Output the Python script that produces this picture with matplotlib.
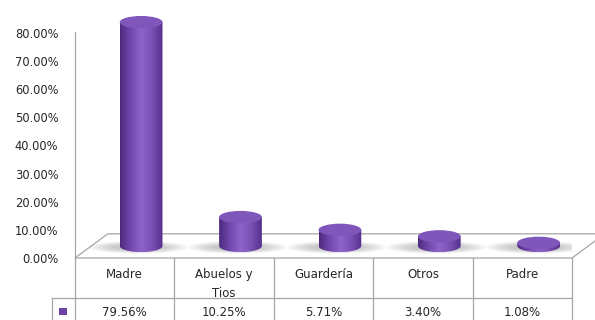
import numpy as np
import matplotlib.pyplot as plt
from matplotlib.patches import Ellipse, Polygon, PathPatch, Rectangle
from matplotlib.path import Path
from matplotlib.colors import LinearSegmentedColormap

plt.rcParams['font.family'] = ['DejaVu Sans']

categorias = ["Madre", "Abuelos y\nTios", "Guardería", "Otros", "Padre"]
porcentajes = [79.56, 10.25, 5.71, 3.40, 1.08]
yticks = [0, 10, 20, 30, 40, 50, 60, 70, 80]

W, H = 595, 320
fig = plt.figure(figsize=(W / 100, H / 100), dpi=100)
# axes reaches above the 80% line so the tallest cylinder is not cut
ax = fig.add_axes([75 / W, (H - 258) / H, (572 - 75) / W, (258 - 3) / H])
ytop = 80 * (258 - 3) / (258 - 33)
for s in ax.spines.values():
    s.set_visible(False)

# depth of the 3d floor (in data units) and cylinder size
dx, dy = 0.33, 8.6
rx, ry = 0.215, 2.2
gris = '#A6A6A6'
txt = '#262626'

# floor
floor = Polygon([(0, 0), (5, 0), (5 + dx, dy), (dx, dy)], closed=True,
                facecolor='white', edgecolor=gris, lw=0.9, clip_on=False, zorder=1)
ax.add_patch(floor)
ax.plot([0, 0], [0, 80.5], color=gris, lw=0.9, clip_on=False, zorder=1)

cmap = LinearSegmentedColormap.from_list('cil', ['#4E2A7E', '#7248AE', '#8D65C9', '#7A50B5', '#57308C'])
grad = np.linspace(0, 1, 100).reshape(1, -1)

for i, v in enumerate(porcentajes):
    cx = i + 0.5 + dx / 2
    yb = dy / 2
    yt = yb + v
    # soft shadow on the floor
    for k in range(6):
        ax.add_patch(Ellipse((cx - 0.03, yb - 0.5), 2 * rx * (1.2 + 0.22 * k), 2 * ry * (0.5 + 0.1 * k),
                             facecolor='#6E6E6E', edgecolor='none', alpha=0.07, zorder=2))
    t = np.linspace(np.pi, 2 * np.pi, 40)
    verts = [(cx - rx, yt)] + list(zip(cx + rx * np.cos(t), yb + ry * np.sin(t))) + [(cx + rx, yt), (cx - rx, yt)]
    body = PathPatch(Path(verts), facecolor='none', edgecolor='none', zorder=3)
    ax.add_patch(body)
    im = ax.imshow(grad, cmap=cmap, extent=[cx - rx, cx + rx, yb - ry, yt],
                   aspect='auto', zorder=3, interpolation='bilinear')
    im.set_clip_path(body)
    ax.add_patch(Ellipse((cx, yt), 2 * rx, 2 * ry, facecolor='#7F57BB',
                         edgecolor='none', zorder=4))

ax.set_xlim(0, len(categorias))
ax.set_ylim(0, ytop)
ax.set_yticks(yticks)
ax.set_yticklabels([f"{t:.2f}%" for t in yticks])
ax.set_xticks([])
ax.tick_params(axis='y', length=0, pad=12, labelsize=8.3, labelcolor=txt)

# data table below the floor
y_row = -14.3
y_bot = -23
for j in range(len(categorias) + 1):
    ax.plot([j, j], [0, y_bot], color=gris, lw=0.9, clip_on=False)
ax.plot([-0.23, 5], [y_row, y_row], color=gris, lw=0.9, clip_on=False)
ax.plot([-0.23, -0.23], [y_row, y_bot], color=gris, lw=0.9, clip_on=False)
for j, (c, v) in enumerate(zip(categorias, porcentajes)):
    ax.text(j + 0.5, -3.5, c, ha='center', va='top', fontsize=8.5, color=txt,
            linespacing=1.6, clip_on=False)
    ax.text(j + 0.5, -19.2, f"{v:.2f}%", ha='center', va='center', fontsize=8.5,
            color=txt, clip_on=False)
ax.add_patch(Rectangle((-0.16, -20.4), 0.075, 2.7, facecolor='#7042A8', edgecolor='none',
                       clip_on=False))

fig.savefig('out.png', dpi=100, facecolor='white')
